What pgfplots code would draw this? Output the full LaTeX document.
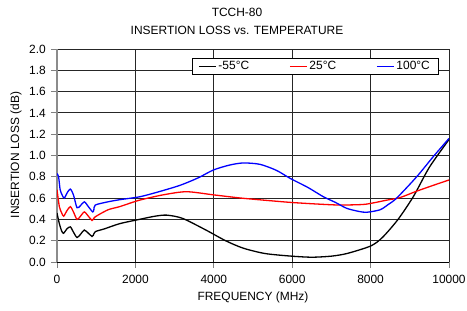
\documentclass[border=0pt]{standalone}
\usepackage{fontspec}
\setmainfont{Liberation Sans}
\usepackage{pgfplots}
\pgfplotsset{compat=1.18}
\begin{document}
\fontsize{12}{14.4}\selectfont
\begin{tikzpicture}
\useasboundingbox (-57bp,-49bp) rectangle (410bp,262bp);
\begin{axis}[
  anchor=south west, at={(0,0)},
  scale only axis, width=392bp, height=213bp,
  xmin=0, xmax=10000, ymin=0, ymax=2,
  xtick={0,2000,...,10000}, ytick={0,0.2,...,2.0},
  /pgf/number format/assume math mode=true,
  scaled x ticks=false,
  xticklabel style={/pgf/number format/1000 sep={}, yshift=-3bp},
  yticklabel style={/pgf/number format/fixed, /pgf/number format/fixed zerofill, /pgf/number format/precision=1, xshift=-1bp},
  tick align=outside, major tick length=6bp,
  tick style={line width=0.8bp},
  grid=major, major grid style={black!85, line width=0.8bp},
  axis x line*=bottom, axis y line*=left,
  x axis line style={black, line width=0.8bp, -},
  y axis line style={black!45, line width=2bp, -},
  legend columns=3,
  legend style={at={(0.972,0.958)}, anchor=north east, fill=white,
    inner xsep=6bp, inner ysep=1bp,
    /tikz/every even column/.append style={column sep=38bp}},
  legend image code/.code={\draw[#1, line width=1.3bp] (0bp,0bp) -- (17bp,0bp);},
  every axis plot/.append style={line width=1.3bp, smooth, tension=0.45, no marks},
]
\addplot[draw=black] coordinates {(0,0.46) (60,0.36) (120,0.29) (170,0.27) (250,0.31) (340,0.33) (420,0.28) (510,0.23) (600,0.26) (697,0.30) (800,0.27) (893,0.24) (925,0.25) (978,0.285) (1200,0.31) (1600,0.36) (2100,0.40) (2500,0.43) (2800,0.44) (3200,0.41) (3800,0.30) (4300,0.20) (4750,0.13) (5300,0.08) (5944,0.056) (6500,0.045) (7000,0.055) (7400,0.08) (8000,0.15) (8300,0.23) (8700,0.40) (9100,0.62) (9500,0.89) (10000,1.15)};
\addlegendentry{-55°C}
\addplot[draw=red] coordinates {(0,0.68) (60,0.52) (120,0.46) (170,0.43) (250,0.48) (340,0.52) (420,0.47) (510,0.40) (600,0.43) (697,0.47) (800,0.43) (893,0.39) (925,0.40) (978,0.425) (1300,0.49) (1600,0.52) (2100,0.58) (2700,0.63) (3300,0.66) (4000,0.63) (4700,0.60) (5300,0.58) (5944,0.56) (6600,0.545) (7200,0.535) (7800,0.54) (8070,0.555) (8400,0.58) (8750,0.605) (9175,0.665) (9600,0.72) (10000,0.77)};
\addlegendentry{25°C}
\addplot[draw=blue] coordinates {(0,0.83) (40,0.80) (80,0.68) (130,0.63) (186,0.60) (260,0.65) (340,0.685) (420,0.63) (510,0.51) (600,0.53) (697,0.565) (800,0.52) (910,0.47) (940,0.49) (978,0.535) (1300,0.565) (1600,0.585) (2117,0.613) (2600,0.66) (3138,0.72) (3600,0.79) (3990,0.864) (4400,0.91) (4753,0.93) (5179,0.917) (5600,0.86) (5944,0.786) (6400,0.70) (6794,0.613) (7100,0.56) (7390,0.504) (7700,0.475) (7900,0.467) (8240,0.49) (8450,0.54) (8665,0.60) (9175,0.80) (9600,0.99) (10000,1.16)};
\addlegendentry{100°C}
\end{axis}
\node at (180bp,250bp) {TCCH-80};
\node at (180bp,232bp) {INSERTION LOSS vs. TEMPERATURE};
\node at (196bp,-35bp) {FREQUENCY (MHz)};
\node[rotate=90] at (-41bp,107bp) {INSERTION LOSS (dB)};
\end{tikzpicture}
\end{document}
